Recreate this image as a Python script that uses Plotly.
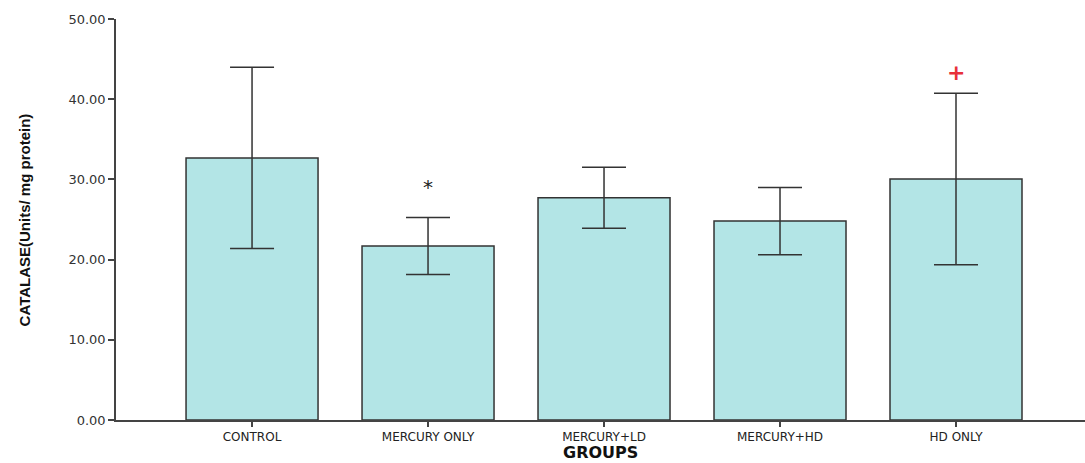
import plotly.graph_objects as go

groups = ["CONTROL", "MERCURY ONLY", "MERCURY+LD", "MERCURY+HD", "HD ONLY"]
means = [32.67, 21.7, 27.7, 24.8, 30.05]
errors = [11.3, 3.55, 3.8, 4.2, 10.7]
marker_text = ["", "*", "", "", "+"]
marker_y = [None, 29.0, None, None, 43.3]
marker_colors = ["black", "#222222", "black", "black", "#e8303a"]
y_ticks = [0, 10, 20, 30, 40, 50]

fig = go.Figure()
fig.add_trace(go.Bar(
    x=groups, y=means, width=0.75,
    marker=dict(color="#b3e5e6", line=dict(color="#333333", width=1.5)),
    error_y=dict(type="data", array=errors, visible=True, color="#333333", thickness=1.5, width=22),
    showlegend=False,
))

for g, t, yv, c in zip(groups, marker_text, marker_y, marker_colors):
    if t:
        fig.add_annotation(x=g, y=yv, text=f"<b>{t}</b>" if t == "+" else t, showarrow=False,
                           font=dict(size=22 if t == "+" else 20, color=c, family="DejaVu Sans"))

fig.add_annotation(xref="paper", yref="paper", x=0.5, y=-0.054, yanchor="top",
                   text="<b>GROUPS</b>", showarrow=False, borderpad=0,
                   font=dict(size=16, color="#111111", family="DejaVu Sans"))
fig.add_annotation(xref="paper", yref="paper", x=-0.094, y=0.5, xanchor="center",
                   text="<b>CATALASE(Units/ mg protein)</b>", showarrow=False, textangle=-90,
                   font=dict(size=15, color="#111111", family="Liberation Sans Narrow, Liberation Sans"))

fig.update_layout(
    width=1085, height=463,
    margin=dict(l=116, r=0, t=19, b=43, autoexpand=False),
    paper_bgcolor="white", plot_bgcolor="white",
    font=dict(family="DejaVu Sans", color="#333333"),
)
fig.update_xaxes(
    range=[-0.773, 4.733], showline=True, linecolor="#444444", linewidth=1.5,
    ticks="outside", ticklen=5, tickcolor="#444444", tickwidth=1.5,
    tickfont=dict(size=12, color="#222222"), automargin=False,
)
fig.update_yaxes(
    range=[0, 50], tickvals=y_ticks, ticktext=[f"{v:.2f}" for v in y_ticks],
    showline=True, linecolor="#444444", linewidth=1.5, showgrid=False, zeroline=False,
    ticks="outside", ticklen=6, tickcolor="#444444", tickwidth=1.5,
    tickfont=dict(size=13, color="#333333"), automargin=False,
)

fig.write_html("out.html", config={"displayModeBar": False},
               post_script="document.body.style.margin='0';")
